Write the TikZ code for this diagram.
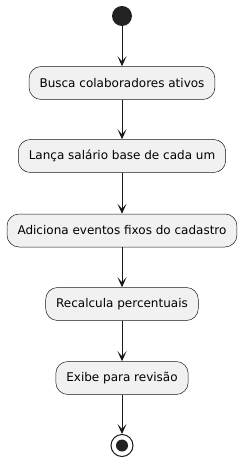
\documentclass[tikz,border=0pt]{standalone}
\usepackage{fontspec}
\setmainfont{DejaVu Sans}
\usetikzlibrary{arrows.meta}
\definecolor{boxfill}{HTML}{F1F1F1}
\definecolor{lineclr}{HTML}{181818}
\definecolor{dotclr}{HTML}{222222}
\begin{document}
\begin{tikzpicture}[x=1pt,y=1pt,
  actbox/.style={draw=lineclr, line width=0.5pt, fill=boxfill, rounded corners=12pt,
    minimum height=33pt, inner xsep=10.5pt, font=\fontsize{12}{14}\selectfont, text=black},
  flow/.style={draw=lineclr, line width=1pt, -{Stealth[length=10pt,width=9pt,inset=5pt]}}]
\useasboundingbox (0,0) rectangle (249,-470);
\node[circle, fill=dotclr, minimum size=20pt, inner sep=0pt] (start) at (122,-16) {};
\node[actbox] (b1) at (122,-83) {Busca colaboradores ativos};
\node[actbox] (b2) at (122,-156) {Lança salário base de cada um};
\node[actbox] (b3) at (122,-230.5) {Adiciona eventos fixos do cadastro};
\node[actbox] (b4) at (122,-304) {Recalcula percentuais};
\node[actbox] (b5) at (122,-378) {Exibe para revisão};
\node[circle, draw=lineclr, line width=1pt, minimum size=22pt, inner sep=0pt] (stop) at (122,-445.5) {};
\fill[dotclr] (stop.center) circle (6pt);
\draw[flow] (start) -- (b1);
\draw[flow] (b1) -- (b2);
\draw[flow] (b2) -- (b3);
\draw[flow] (b3) -- (b4);
\draw[flow] (b4) -- (b5);
\draw[flow] (b5) -- (stop);
\end{tikzpicture}
\end{document}
